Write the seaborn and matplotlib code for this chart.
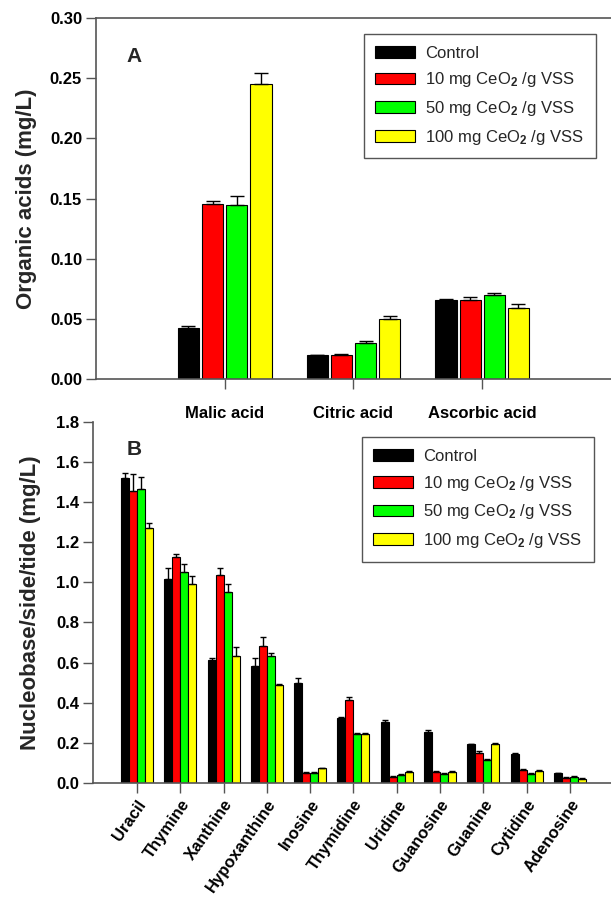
import numpy as np
import pandas as pd
import matplotlib
matplotlib.use("Agg")
import matplotlib.pyplot as plt
import seaborn as sns

sns.set_style("ticks")
plt.rcParams["font.family"] = ["Liberation Sans", "DejaVu Sans"]
plt.rcParams["font.weight"] = "bold"
plt.rcParams["mathtext.fontset"] = "custom"
plt.rcParams["mathtext.rm"] = "Liberation Sans"
plt.rcParams["mathtext.it"] = "Liberation Sans:italic"

treatments = ["Control", "10 mg CeO$_2$ /g VSS", "50 mg CeO$_2$ /g VSS", "100 mg CeO$_2$ /g VSS"]
colors = ["#000000", "#ff0000", "#00ff00", "#ffff00"]

# panel A - organic acids
acids = ["Malic acid", "Citric acid", "Ascorbic acid"]
acid_control = [0.043, 0.020, 0.066]
acid_10 = [0.146, 0.020, 0.066]
acid_50 = [0.145, 0.030, 0.070]
acid_100 = [0.245, 0.050, 0.059]
acid_control_err = [0.001, 0.0005, 0.001]
acid_10_err = [0.002, 0.001, 0.002]
acid_50_err = [0.007, 0.002, 0.002]
acid_100_err = [0.009, 0.003, 0.004]

# panel B - nucleobases / nucleosides
nucleo = ["Uracil", "Thymine", "Xanthine", "Hypoxanthine", "Inosine", "Thymidine",
          "Uridine", "Guanosine", "Guanine", "Cytidine", "Adenosine"]
nuc_control = [1.517, 1.015, 0.612, 0.584, 0.496, 0.322, 0.302, 0.252, 0.194, 0.146, 0.050]
nuc_10 = [1.456, 1.128, 1.038, 0.682, 0.051, 0.415, 0.030, 0.055, 0.149, 0.066, 0.025]
nuc_50 = [1.464, 1.053, 0.950, 0.634, 0.051, 0.244, 0.038, 0.045, 0.114, 0.045, 0.030]
nuc_100 = [1.272, 0.993, 0.633, 0.489, 0.073, 0.244, 0.056, 0.056, 0.197, 0.061, 0.022]
nuc_control_err = [0.025, 0.058, 0.010, 0.038, 0.028, 0.006, 0.013, 0.010, 0.002, 0.003, 0.001]
nuc_10_err = [0.083, 0.013, 0.032, 0.046, 0.002, 0.013, 0.003, 0.003, 0.009, 0.002, 0.003]
nuc_50_err = [0.062, 0.038, 0.042, 0.013, 0.002, 0.005, 0.007, 0.005, 0.004, 0.003, 0.003]
nuc_100_err = [0.022, 0.038, 0.044, 0.005, 0.003, 0.005, 0.004, 0.004, 0.004, 0.004, 0.001]


def long_df(cats, series):
    rows = []
    for t, vals in zip(treatments, series):
        for c, v in zip(cats, vals):
            rows.append({"cat": c, "treat": t, "value": v})
    return pd.DataFrame(rows)


def draw(ax, cats, series, errs, width, gap, capsize):
    df = long_df(cats, series)
    sns.barplot(data=df, x="cat", y="value", hue="treat", palette=colors,
                saturation=1, width=width, gap=gap, edgecolor="black", linewidth=0.8,
                errorbar=None, ax=ax, legend=False)
    for cont, err in zip(ax.containers, errs):
        xs = [b.get_x() + b.get_width() / 2 for b in cont]
        hs = [b.get_height() for b in cont]
        ax.errorbar(xs, hs, yerr=[np.zeros(len(err)), err], fmt="none",
                    ecolor="black", elinewidth=1, capsize=capsize, capthick=1, zorder=3)
    ax.set_xlabel("")
    ax.legend(ax.containers, treatments, loc="upper left", frameon=True,
              fancybox=False, edgecolor="#555555", framealpha=1,
              prop={"weight": "normal", "size": 12}, handlelength=2.4,
              handleheight=0.7, handletextpad=0.6, labelspacing=0.58,
              borderpad=0.7, borderaxespad=0)
    for s in ax.spines.values():
        s.set_color("#555555")
        s.set_linewidth(1.2)
    ax.tick_params(axis="both", direction="out", length=7, width=1,
                   color="#555555", labelcolor="black", pad=3)


fig = plt.figure(figsize=(6.11, 8.97), dpi=100)

axA = fig.add_axes([0.157, 0.577, 0.843, 0.403])
draw(axA, acids, [acid_control, acid_10, acid_50, acid_100],
     [acid_control_err, acid_10_err, acid_50_err, acid_100_err], 0.75, 0.12, 5)
axA.set_xlim(-1, 3)
axA.set_ylim(0, 0.30)
axA.set_yticks(np.arange(0, 0.301, 0.05))
axA.set_yticklabels([f"{v:.2f}" for v in np.arange(0, 0.301, 0.05)], fontsize=12)
axA.tick_params(axis="x", labelsize=12, pad=12)
axA.spines["right"].set_visible(False)
axA.set_ylabel("Organic acids (mg/L)", fontsize=16, fontweight="bold")
axA.yaxis.set_label_coords(-0.115, 0.5)
axA.get_legend().set_bbox_to_anchor((0.52, 0.956))
axA.text(0.074, 0.892, "A", transform=axA.transAxes, fontsize=15,
         fontweight="bold", ha="center", va="center")

axB = fig.add_axes([0.152, 0.127, 0.848, 0.403])
draw(axB, nucleo, [nuc_control, nuc_10, nuc_50, nuc_100],
     [nuc_control_err, nuc_10_err, nuc_50_err, nuc_100_err], 0.74, 0, 2.5)
axB.set_xlim(-1.02, 10.95)
axB.set_ylim(0, 1.8)
axB.set_yticks(np.arange(0, 1.801, 0.2))
axB.set_yticklabels([f"{v:.1f}" for v in np.arange(0, 1.801, 0.2)], fontsize=12)
plt.setp(axB.get_xticklabels(), rotation=55, ha="right", rotation_mode="anchor",
         fontsize=12)
axB.spines["right"].set_visible(False)
axB.spines["top"].set_visible(False)
axB.set_ylabel("Nucleobase/side/tide (mg/L)", fontsize=16, fontweight="bold")
axB.yaxis.set_label_coords(-0.10, 0.5)
axB.get_legend().set_bbox_to_anchor((0.519, 0.956))
axB.text(0.079, 0.922, "B", transform=axB.transAxes, fontsize=15,
         fontweight="bold", ha="center", va="center")

fig.savefig("out.png", dpi=100)
